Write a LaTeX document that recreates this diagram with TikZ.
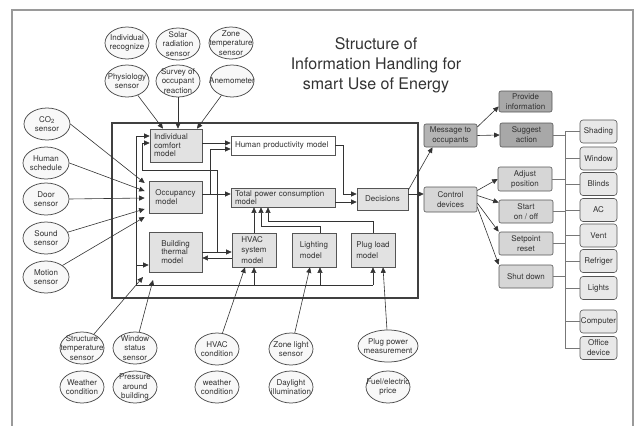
\documentclass[tikz,border=0pt]{standalone}
\usepackage{fontspec}
\setmainfont{TeX Gyre Heros}
\usetikzlibrary{arrows.meta,shapes.geometric,calc}
\definecolor{edge}{HTML}{555555}
\definecolor{lineg}{HTML}{333333}
\definecolor{boxg}{HTML}{E2E2E2}
\definecolor{msgg}{HTML}{B4B4B4}
\definecolor{msgd}{HTML}{A8A8A8}
\definecolor{ctrlg}{HTML}{D6D6D6}
\definecolor{devg}{HTML}{E8E8E8}
\definecolor{ellf}{HTML}{F8F8F8}
\definecolor{txt}{HTML}{333333}
\definecolor{framec}{HTML}{9A9A9A}
\begin{document}
\begin{tikzpicture}[x=1pt,y=-1pt,
  every node/.style={font=\fontsize{8}{8.5}\selectfont, text=txt},
  box/.style={draw=edge, line width=0.7pt, fill=boxg, inner xsep=4pt, inner ysep=1pt, align=left},
  tall/.style={font=\fontsize{8}{10.5}\selectfont},
  rbox/.style={draw=edge, line width=0.6pt, rounded corners=2pt, align=center, inner sep=1pt,
     minimum width=53pt, minimum height=23pt, font=\fontsize{8}{10}\selectfont},
  dev/.style={draw=edge, line width=0.6pt, rounded corners=3pt, fill=devg, align=center, inner sep=0.5pt,
     minimum width=37pt, minimum height=23pt, font=\fontsize{8}{10}\selectfont},
  ell/.style={ellipse, draw=black!70, line width=0.75pt, fill=ellf, inner sep=0pt, minimum width=44pt, minimum height=32pt},
  et/.style={align=center, inner sep=0pt, font=\fontsize{8}{9.5}\selectfont, text=txt},
  arr/.style={draw=lineg, line width=0.6pt, -{Triangle[length=5.5pt,width=5pt]}},
  ln/.style={draw=lineg, line width=0.6pt},
  tree/.style={draw=edge!80, line width=0.6pt}
]
\useasboundingbox (0,0) rectangle (638,426);
% outer frame
\draw[framec, line width=1.3pt] (12,426) -- (12,10) -- (633,10) -- (633,426);
% title
\node[align=center, font=\fontsize{16}{20}\selectfont] (title) at (376,65) {Structure of\\Information Handling for\\smart Use of Energy};
% inner system box
\node[draw=black!75, line width=1.5pt, minimum width=306pt, minimum height=175pt, inner sep=0pt] (sys) at (265,210.5) {};

% top ellipses
\node[ell, label={[et]center:Individual\\recognize}] (irec) at (127,43) {};
\node[ell, label={[et]center:Solar\\radiation\\sensor}] (solar) at (178,44) {};
\node[ell, label={[et]center:Zone\\temperature\\sensor}] (zone) at (231,43) {};
\node[ell, label={[et]center:Physiology\\sensor}] (phys) at (127,81) {};
\node[ell, label={[et]center:Survey of\\occupant\\reaction}] (survey) at (178,81) {};
\node[ell, label={[et]center:Anemometer}] (anem) at (232,81) {};

% left ellipses
\node[ell, minimum width=46pt, label={[et]center:CO\textsubscript{2}\\sensor}] (co2) at (47,124) {};
\node[ell, minimum width=46pt, label={[et]center:Human\\schedule}] (human) at (46,163) {};
\node[ell, minimum width=46pt, label={[et]center:Door\\sensor}] (door) at (46,199) {};
\node[ell, minimum width=46pt, label={[et]center:Sound\\sensor}] (sound) at (46,238) {};
\node[ell, minimum width=46pt, label={[et]center:Motion\\sensor}] (motion) at (46,277) {};

% bottom ellipses
\node[ell, label={[et]center:Structure\\temperature\\sensor}] (stt) at (82,348) {};
\node[ell, label={[et]center:Window\\status\\sensor}] (wss) at (135,348) {};
\node[ell, label={[et]center:Weather\\condition}] (wc1) at (82,387) {};
\node[ell, label={[et]center:Pressure\\around\\building}] (pab) at (135,387) {};
\node[ell, label={[et]center:HVAC\\condition}] (hvacc) at (217,349) {};
\node[ell, label={[et]center:weather\\condition}] (wc2) at (217,387) {};
\node[ell, label={[et]center:Zone light\\sensor}] (zls) at (291,349) {};
\node[ell, label={[et]center:Daylight\\illumination}] (dayl) at (291,387) {};
\node[ell, minimum width=60pt, label={[et]center:Plug power\\measurement}] (ppm) at (388,346) {};
\node[ell, label={[et]center:Fuel/electric\\price}] (fep) at (388,387) {};

% inner boxes
\node[box, text width=44pt, minimum height=33pt] (comfort) at (176,145.5) {Individual\\comfort\\model};
\node[box, fill=white, text width=96pt, minimum height=19pt] (hp) at (283,145.5) {Human productivity model};
\node[box, minimum width=53pt, minimum height=32pt] (occ) at (175.5,197) {Occupancy\\model};
\node[box, text width=96pt, minimum height=19pt] (tp) at (283,197.5) {Total power consumption\\model};
\node[box, align=center, text width=43pt, minimum height=22pt] (dec) at (382.5,199) {Decisions};
\node[box, minimum width=53pt, minimum height=40pt] (bt) at (175.5,252) {Building\\thermal\\model};
\node[box, tall, minimum width=44pt, minimum height=34pt] (hvac) at (254,250) {HVAC\\system\\model};
\node[box, tall, minimum width=44pt, minimum height=34pt] (light) at (314,250) {Lighting\\model};
\node[box, tall, minimum width=44pt, minimum height=34pt] (plug) at (373,250) {Plug load\\model};

% right boxes
\node[rbox, fill=msgg] (msg) at (450.5,135.5) {Message to\\occupants};
\node[rbox, fill=msgd, minimum height=21pt] (prov) at (525.5,101.5) {Provide\\information};
\node[rbox, fill=msgd, minimum height=24pt] (sugg) at (526.5,135) {Suggest\\action};
\node[rbox, fill=ctrlg, minimum height=25pt] (ctrl) at (450.5,199.5) {Control\\devices};
\node[rbox, fill=ctrlg, minimum width=54pt, minimum height=24pt] (adj) at (525,179) {Adjust\\position};
\node[rbox, fill=ctrlg, minimum width=54pt] (start) at (526,211.5) {Start\\on / off};
\node[rbox, fill=ctrlg, minimum width=54pt] (setp) at (526,243.5) {Setpoint\\reset};
\node[rbox, fill=ctrlg, minimum width=54pt] (shut) at (526,276.5) {Shut down};

% devices
\node[dev] (shading) at (598.5,131.5) {Shading};
\node[dev] (window) at (598.5,158.5) {Window};
\node[dev] (blinds) at (598.5,184) {Blinds};
\node[dev] (ac) at (598.5,210) {AC};
\node[dev] (vent) at (598.5,235.5) {Vent};
\node[dev] (refr) at (598.5,261) {Refriger};
\node[dev] (lights) at (598.5,288) {Lights};
\node[dev] (comp) at (598.5,321.5) {Computer};
\node[dev] (office) at (598.5,348) {Office\\device};

% ---- connectors: top sensors
\draw[arr] (phys) -- ([xshift=-13pt]comfort.north);
\draw[arr] (survey) -- ([xshift=2pt]comfort.north);
\draw[arr] (anem) -- ([xshift=21pt]comfort.north);

% left sensors
\draw[arr] (co2.east) -- ([xshift=-4pt,yshift=14pt]occ.west);
\draw[arr] (human.east) -- ([xshift=-4pt,yshift=6pt]occ.west);
\draw[arr] (door.east) -- ([xshift=-4pt,yshift=-1pt]occ.west);
\draw[arr] (sound.15) -- ([xshift=-4pt,yshift=-12pt]occ.west);
\draw[arr] (motion.35) -- ([xshift=-4pt,yshift=-20pt]occ.west);

% models
\draw[arr] ([yshift=2.5pt]comfort.east) coordinate (c1) -- (c1 -| hp.west);
\draw[arr] ([yshift=3pt]occ.east) coordinate (o1) -- (o1 -| tp.west);
\draw[arr] ([xshift=8pt]o1) |- ([yshift=-3.5pt]hp.west);
\draw[arr] (bt.east) coordinate (b1) -- (b1 -| hvac.west);
\coordinate (b2) at ([yshift=-6pt]bt.east);
\draw[arr] (b2 -| hvac.west) -- (b2);
\draw[arr] ([xshift=15pt]b1) -- ++(0,-82) -| ([xshift=-7pt,yshift=2.5pt]comfort.west) -- ([yshift=2.5pt]comfort.west);

% bus
\coordinate (bus) at (136,285);
\draw[arr] (bus) |- ([yshift=9.5pt]comfort.west);
\draw[ln] (bus) -- (bus -| plug.south);
\coordinate (bt3) at ([yshift=-13pt]bt.west);
\draw[arr] (bus |- bt3) -- (bt3);
\draw[arr] (bus -| hvac.south) -- (hvac.south);
\coordinate (l3) at ([xshift=6pt]light.south);
\draw[arr] (bus -| l3) -- (l3);
\draw[arr] (bus -| plug.south) -- (plug.south);

% bottom sensors
\draw[arr] (stt) -- ([xshift=7pt,yshift=8pt]bus);
\draw[arr] (wss) -- ([xshift=17pt,yshift=5pt]bus);
\draw[arr] (hvacc) -- ([xshift=-9pt]hvac.south);
\draw[arr] (zls) -- ([xshift=-4pt]light.south);
\draw[arr] (ppm) -- ([xshift=10pt]plug.south);

% into total power
\draw[arr] (hvac.north) -- (hvac.north |- tp.south);
\draw[arr] ([xshift=6pt]light.north) -- ++(0,-6) -| ([xshift=-22pt]tp.south);
\draw[arr] (plug.north) -- ++(0,-11) -| ([xshift=-15pt]tp.south);

% to decisions
\draw[arr] (hp.east) -- ++(8,0) |- ([yshift=5pt]dec.west);
\draw[arr] ([yshift=-4.5pt]tp.east) coordinate (t1) -- (t1 -| dec.west);

% decisions outputs
\draw[arr] ([yshift=9pt]dec.east) -- ([xshift=-18pt]msg.south);
\draw[arr] ([yshift=5pt]dec.east) coordinate (d1) -- (d1 -| ctrl.west);
\draw[arr] ([yshift=8.5pt]msg.east) -- ([yshift=-5pt]prov.west);
\draw[arr] (msg.east) -- (sugg.west);
\draw[arr] ([yshift=9pt]ctrl.east) -- (adj.west);
\draw[arr] ([yshift=4pt]ctrl.east) -- ([yshift=9pt]start.west);
\draw[arr] ([yshift=-3.5pt]ctrl.east) -- (setp.north west);
\draw[arr] ([yshift=-7.5pt]ctrl.east) -- (shut.north west);

% tree
\coordinate (tx) at (565,131.5);
\draw[tree] (tx |- shading.west) -- (tx |- office.west);
\foreach \d in {shading,window,blinds,ac,vent,refr,lights,comp,office} {
  \draw[tree] (\d.west) -- (tx |- \d.west);
}
\foreach \a in {sugg,adj,start,setp,shut} {
  \draw[tree] (\a.east) -- (tx |- \a.east);
}
\end{tikzpicture}
\end{document}
